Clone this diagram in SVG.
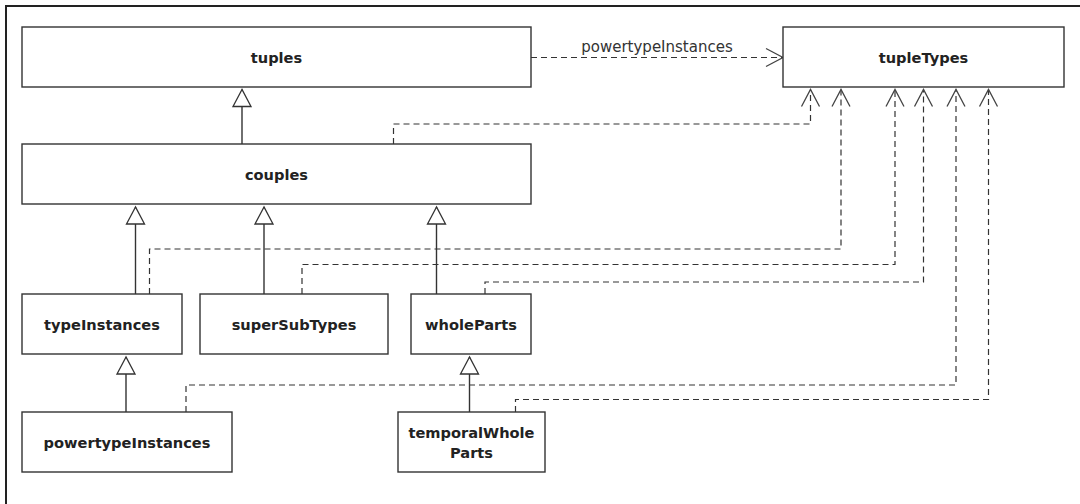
<svg xmlns="http://www.w3.org/2000/svg" width="1080" height="504" viewBox="0 0 1080 504">
  <style>
    .box { fill: #ffffff; stroke: #333333; stroke-width: 1.4; }
    .name { font-family: "DejaVu Sans", Verdana, sans-serif; font-weight: bold; font-size: 14.6px; fill: #222222; text-anchor: middle; }
    .lbl { font-family: "DejaVu Sans", Verdana, sans-serif; font-size: 15px; fill: #333333; text-anchor: middle; }
    .gen { fill: none; stroke: #333333; stroke-width: 1.4; marker-end: url(#hollowTri); }
    .dep { fill: none; stroke: #333333; stroke-width: 1.2; stroke-dasharray: 6 4; marker-end: url(#openArrow); }
    .frame { fill: none; stroke: #222222; stroke-width: 2; }
  </style>
  <defs>
    <!-- hollow triangle for generalization -->
    <marker id="hollowTri" markerUnits="userSpaceOnUse" viewBox="-18 -10 20 20" markerWidth="20" markerHeight="20" refX="0" refY="0" orient="auto" overflow="visible">
      <path d="M0,0 L-17,-9 L-17,9 Z" fill="#ffffff" stroke="#333333" stroke-width="1.3"/>
    </marker>
    <!-- open arrowhead for dependency -->
    <marker id="openArrow" markerUnits="userSpaceOnUse" viewBox="-18 -10 20 20" markerWidth="20" markerHeight="20" refX="0" refY="0" orient="auto" overflow="visible">
      <path d="M-17,-9 L0,0 L-17,9" fill="none" stroke="#444444" stroke-width="1.3"/>
    </marker>
  </defs>

  <rect width="1080" height="504" fill="#ffffff"/>
  <!-- diagram frame (continues past the right and bottom edges) -->
  <path class="frame" d="M6,504 V6 H1080"/>

  <g id="connectors">
    <!-- generalizations -->
    <path class="gen" d="M242,144 V89.5"/>
    <path class="gen" d="M135.5,294 V207"/>
    <path class="gen" d="M264,294 V207"/>
    <path class="gen" d="M436.5,294 V207"/>
    <path class="gen" d="M126,412 V357"/>
    <path class="gen" d="M469.5,412 V357"/>
    <!-- dependencies to tupleTypes -->
    <path class="dep" d="M531,57.5 H783"/>
    <text class="lbl" x="657" y="52">powertypeInstances</text>
    <path class="dep" d="M393.5,144 V124 H810.5 V89.5"/>
    <path class="dep" d="M149.5,294 V249 H841 V89.5"/>
    <path class="dep" d="M302,294 V264.5 H895 V89.5"/>
    <path class="dep" d="M485,294 V282 H923.5 V89.5"/>
    <path class="dep" d="M186,412 V385 H956 V89.5"/>
    <path class="dep" d="M515.5,412 V399.5 H988.5 V89.5"/>
  </g>

  <g id="tuples">
    <rect class="box" x="22" y="27" width="509" height="60"/>
    <text class="name" x="276.5" y="62.5">tuples</text>
  </g>
  <g id="tupleTypes">
    <rect class="box" x="783" y="27" width="281" height="60"/>
    <text class="name" x="923.5" y="62.5">tupleTypes</text>
  </g>
  <g id="couples">
    <rect class="box" x="22" y="144" width="509" height="60"/>
    <text class="name" x="276.5" y="179.5">couples</text>
  </g>
  <g id="typeInstances">
    <rect class="box" x="22" y="294" width="160" height="60"/>
    <text class="name" x="102" y="329.5">typeInstances</text>
  </g>
  <g id="superSubTypes">
    <rect class="box" x="200" y="294" width="188" height="60"/>
    <text class="name" x="294" y="329.5">superSubTypes</text>
  </g>
  <g id="wholeParts">
    <rect class="box" x="411" y="294" width="120" height="60"/>
    <text class="name" x="471" y="329.5">wholeParts</text>
  </g>
  <g id="powertypeInstances">
    <rect class="box" x="22" y="412" width="210" height="60"/>
    <text class="name" x="127" y="447.5">powertypeInstances</text>
  </g>
  <g id="temporalWholeParts">
    <rect class="box" x="398" y="412" width="147" height="60"/>
    <text class="name" x="471.5" y="437.5">temporalWhole</text>
    <text class="name" x="471.5" y="457.5">Parts</text>
  </g>
</svg>
